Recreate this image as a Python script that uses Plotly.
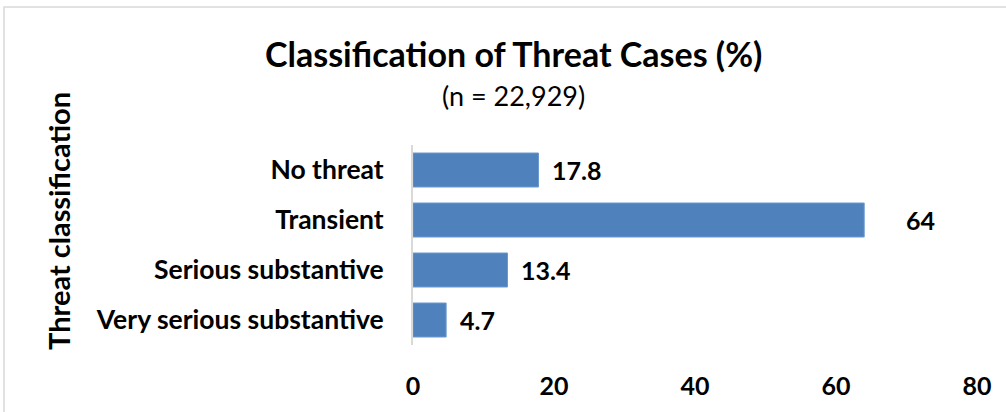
import plotly.graph_objects as go

categories = ["No threat", "Transient", "Serious substantive", "Very serious substantive"]
values = [17.8, 64, 13.4, 4.7]
value_labels = ["17.8", "64", "13.4", "4.7"]
x_ticks = [0, 20, 40, 60, 80]
label_shift = [12, 40, 12, 12]

W, H = 1006, 412
L, R, T, B = 413, 29, 145, 67
pw, ph = W - L - R, H - T - B

FONT = "Lato"
BAR = "#4F81BD"

fig = go.Figure()
fig.add_trace(go.Bar(
    y=categories, x=values, orientation="h",
    marker=dict(color=BAR, line=dict(color="#6C98CF", width=1)),
    width=0.68, hoverinfo="skip",
))

for c, v, t, s in zip(categories, values, value_labels, label_shift):
    fig.add_annotation(x=v, y=c, xref="x", yref="y", text=f"<b>{t}</b>",
                       showarrow=False, xanchor="left", xshift=s,
                       font=dict(family=FONT, size=25, color="black"))

fig.add_annotation(x=(513 - L) / pw, y=(H - B - 54) / ph, xref="paper", yref="paper",
                   text="<b>Classification of Threat Cases (%)</b>", showarrow=False,
                   xanchor="center", yanchor="middle",
                   font=dict(family=FONT, size=34, color="black"))
fig.add_annotation(x=(513 - L) / pw, y=(H - B - 95) / ph, xref="paper", yref="paper",
                   text="(n = 22,929)", showarrow=False,
                   xanchor="center", yanchor="middle",
                   font=dict(family=FONT, size=27, color="black"))
fig.add_annotation(x=(58 - L) / pw, y=(H - B - 221) / ph, xref="paper", yref="paper",
                   text="<b>Threat classification</b>", showarrow=False, textangle=-90,
                   xanchor="center", yanchor="middle",
                   font=dict(family=FONT, size=29, color="black"))

fig.add_shape(type="rect", xref="paper", yref="paper",
              x0=(4 - L) / pw, x1=(1010 - L) / pw,
              y0=(H - B - 420) / ph, y1=(H - B - 7) / ph,
              line=dict(color="#D9D9D9", width=1.5), fillcolor="rgba(0,0,0,0)", layer="below")

fig.update_layout(
    width=W, height=H,
    margin=dict(l=L, r=R, t=T, b=B),
    paper_bgcolor="white", plot_bgcolor="white",
    showlegend=False,
    font=dict(family=FONT, color="black"),
    xaxis=dict(range=[0, 80], tickvals=x_ticks, ticktext=[f"<b>{v}</b>" for v in x_ticks],
               showgrid=False, zeroline=False, showline=False,
               tickfont=dict(family=FONT, size=25, color="black"),
               ticks="", ticklabelstandoff=24),
    yaxis=dict(categoryorder="array", categoryarray=categories[::-1],
               range=[-0.5, 3.5],
               ticktext=[f"<b>{c}</b>" for c in categories], tickvals=categories,
               showgrid=False, zeroline=False,
               showline=True, linecolor="#D9D9D9", linewidth=2,
               ticks="", ticklabelstandoff=22,
               tickfont=dict(family=FONT, size=26.5, color="black")),
    bargap=0.32,
)

fig.write_html("out.html", config={"displayModeBar": False},
               post_script="document.body.style.margin='0px';document.body.style.overflow='hidden';")
